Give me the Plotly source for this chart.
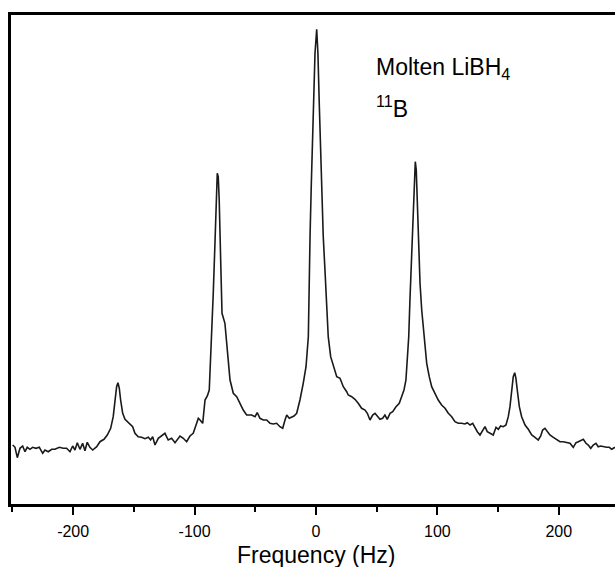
import plotly.graph_objects as go

# Frequency (Hz) and intensity (arbitrary units)
freq_hz = [
    -249.8, -247.9, -246.0, -243.8, -241.6, -239.7, -237.8, -235.6, -233.4, -230.6,
    -227.9, -225.1, -223.2, -220.5, -217.7, -215.0, -211.4, -208.2, -205.4, -202.6,
    -200.4, -198.5, -196.6, -194.4, -192.2, -190.3, -188.4, -186.2, -183.9, -180.6,
    -177.9, -174.6, -171.9, -169.1, -167.0, -165.3, -164.2, -163.1, -162.0, -160.9,
    -159.2, -157.3, -155.4, -153.2, -151.0, -149.1, -146.4, -143.6, -140.9, -138.1,
    -136.2, -134.5, -132.6, -129.9,
    -127.1, -124.4, -121.7, -118.9, -116.1, -112.0, -109.3, -106.5, -103.8, -101.1,
    -98.3, -96.9, -95.5, -93.3, -91.4, -89.5, -87.9, -86.7, -85.7, -84.6,
    -83.2, -82.4, -81.3, -80.5, -79.7, -78.5, -77.4, -75.0, -73.1, -70.8,
    -68.1, -65.3, -62.6, -59.9, -57.1, -53.0, -50.2, -48.4, -46.1, -43.4,
    -40.6, -37.9, -35.2, -32.4, -29.7, -27.4, -25.5, -24.1, -22.0, -20.0,
    -18.1, -15.9, -13.2, -10.5, -8.2, -6.3,
    -5.8, -4.9, -3.9, -2.7, -1.6, -0.8, 0.6, 1.6, 2.7, 3.9,
    4.9, 6.0, 7.4, 8.8, 10.1, 12.1, 14.3, 17.1, 19.8, 22.5, 25.3,
    26.6, 29.4, 32.1, 34.8, 37.6, 40.4, 42.3, 44.5, 46.7, 48.6,
    50.5, 52.7, 54.9, 56.8, 58.7, 61.0, 63.2, 65.9, 68.6, 70.6,
    72.5, 74.1, 75.2, 76.4, 77.4, 78.8, 80.1, 81.3, 81.8, 82.6,
    83.4, 84.6, 85.7, 87.1, 89.0, 91.2, 93.3, 95.3, 98.0, 100.7,
    103.5, 106.3, 109.0, 111.8, 114.5, 117.2, 120.0, 122.7, 124.6, 126.9,
    129.1, 131.0, 132.9, 135.1, 137.3, 139.2, 141.1,
    143.3, 146.0, 148.3, 150.2, 152.1, 154.3, 156.5, 158.4, 159.8, 161.2,
    162.5, 163.7, 164.7, 165.8, 167.5, 169.4, 172.2, 174.9, 177.7, 180.4,
    183.1, 185.1, 186.7, 188.6, 190.5, 192.7, 195.5, 198.3, 201.0, 203.7,
    206.5, 209.2, 211.9, 214.2, 216.1, 218.0, 220.2, 222.4, 224.3, 226.3,
    228.4, 230.6, 232.5, 234.5, 236.7, 239.4, 241.6, 243.6, 246.3,
]

intensity = [
    63.0, 60.7, 50.3, 59.7, 62.0, 56.3, 60.7, 58.7, 60.7, 59.7,
    60.7, 54.7, 58.0, 56.3, 58.7, 58.7, 60.7, 59.7, 59.7, 56.3,
    62.0, 58.0, 65.3, 58.7, 64.7, 57.3, 65.7, 60.7, 58.0, 61.3,
    66.3, 68.7, 73.0, 79.7, 91.3, 108.0, 121.3, 125.3, 119.7, 108.0,
    94.7, 88.7, 86.3, 83.0, 81.3, 74.7, 71.3, 70.7, 69.3, 70.7,
    68.0, 71.3, 63.0, 69.7,
    72.0, 74.7, 68.0, 69.7, 65.3, 72.0, 69.7, 66.3, 72.0, 74.7,
    84.7, 89.7, 88.0, 84.7, 108.0, 112.0, 118.0, 148.0, 188.0, 214.7,
    264.7, 308.0, 334.7, 331.3, 308.0, 248.0, 194.7, 184.7, 158.0, 128.0,
    114.7, 111.3, 104.7, 98.0, 93.0, 93.0, 91.3, 95.3, 89.7, 88.0,
    88.0, 84.7, 84.0, 84.7, 81.3, 79.7, 88.0, 93.0, 89.7, 91.3,
    92.0, 94.7, 108.0, 124.7, 141.3, 171.3,
    221.3, 271.3, 321.3, 371.3, 421.3, 454.7, 478.7, 454.7, 404.7, 354.7,
    304.7, 271.3, 238.0, 204.7, 171.3, 151.3, 141.3, 131.3, 129.7, 121.3, 116.3,
    113.0, 111.3, 108.7, 104.7, 99.7, 98.0, 94.7, 88.0, 93.0, 94.7,
    91.3, 88.7, 89.7, 93.0, 88.7, 94.7, 96.3, 101.3, 104.7, 111.3,
    118.0, 128.0, 144.7, 171.3, 208.0, 248.0, 298.0, 331.3, 346.3, 338.0,
    308.0, 264.7, 224.7, 198.0, 171.3, 144.7, 131.3, 121.3, 114.7, 108.0,
    103.0, 99.7, 94.7, 91.3, 86.3, 84.7, 84.7, 84.0, 85.3, 83.0,
    84.7, 79.7, 76.3, 73.0, 78.0, 81.3, 76.3,
    74.7, 73.0, 80.7, 78.7, 82.0, 81.3, 83.0, 91.3, 101.3, 118.0,
    131.3, 135.3, 129.7, 118.0, 101.3, 91.3, 83.0, 78.7, 73.0, 70.7,
    68.0, 72.0, 78.0, 79.7, 76.3, 73.0, 70.7, 68.0, 66.3, 66.3,
    65.3, 64.7, 60.7, 65.3, 66.3, 67.3, 68.7, 64.7, 63.0, 59.7,
    63.0, 64.7, 61.3, 62.0, 61.3, 60.7, 60.7, 58.7, 60.7,
]

x_tick_vals = [-200, -100, 0, 100, 200]
x_tick_text = ["-200", "-100", "0", "100", "200"]

FONT = "Liberation Sans, Arial, Helvetica, sans-serif"

fig = go.Figure()
fig.add_trace(go.Scatter(
    x=freq_hz, y=intensity, mode="lines",
    line=dict(color="#1a1a1a", width=1.6),
    showlegend=False, hoverinfo="skip",
))

fig.update_layout(
    width=615, height=567,
    margin=dict(l=11, r=0, t=15, b=63),
    paper_bgcolor="white", plot_bgcolor="white",
    font=dict(family=FONT, color="black"),
    xaxis=dict(
        range=[-251.2, 246.3],
        tickmode="array", tickvals=x_tick_vals, ticktext=x_tick_text,
        ticks="outside", ticklen=8, tickwidth=2, tickcolor="black",
        ticklabelstandoff=3,
        minor=dict(dtick=50, tick0=0, ticks="outside", ticklen=5, tickwidth=2, tickcolor="black", showgrid=False),
        tickfont=dict(size=16, family=FONT, color="black"),
        showline=True, linecolor="black", linewidth=2.5, mirror=True,
        showgrid=False, zeroline=False,
    ),
    yaxis=dict(
        range=[4, 493],
        showticklabels=False, ticks="",
        showline=True, linecolor="black", linewidth=2.5, mirror=False,
        showgrid=False, zeroline=False,
    ),
    annotations=[
        dict(text="Frequency (Hz)", xref="x", yref="paper", x=0, y=-0.104,
             xanchor="center", yanchor="middle", showarrow=False,
             font=dict(size=23, family=FONT, color="black")),
        dict(text="Molten LiBH<sub>4</sub>", xref="paper", yref="paper", x=0.601, y=0.891,
             xanchor="left", yanchor="middle", showarrow=False,
             font=dict(size=23, family=FONT, color="black")),
        dict(text="<sup>11</sup>B", xref="paper", yref="paper", x=0.601, y=0.812,
             xanchor="left", yanchor="middle", showarrow=False,
             font=dict(size=23, family=FONT, color="black")),
    ],
)

fig.write_html("out.html")
